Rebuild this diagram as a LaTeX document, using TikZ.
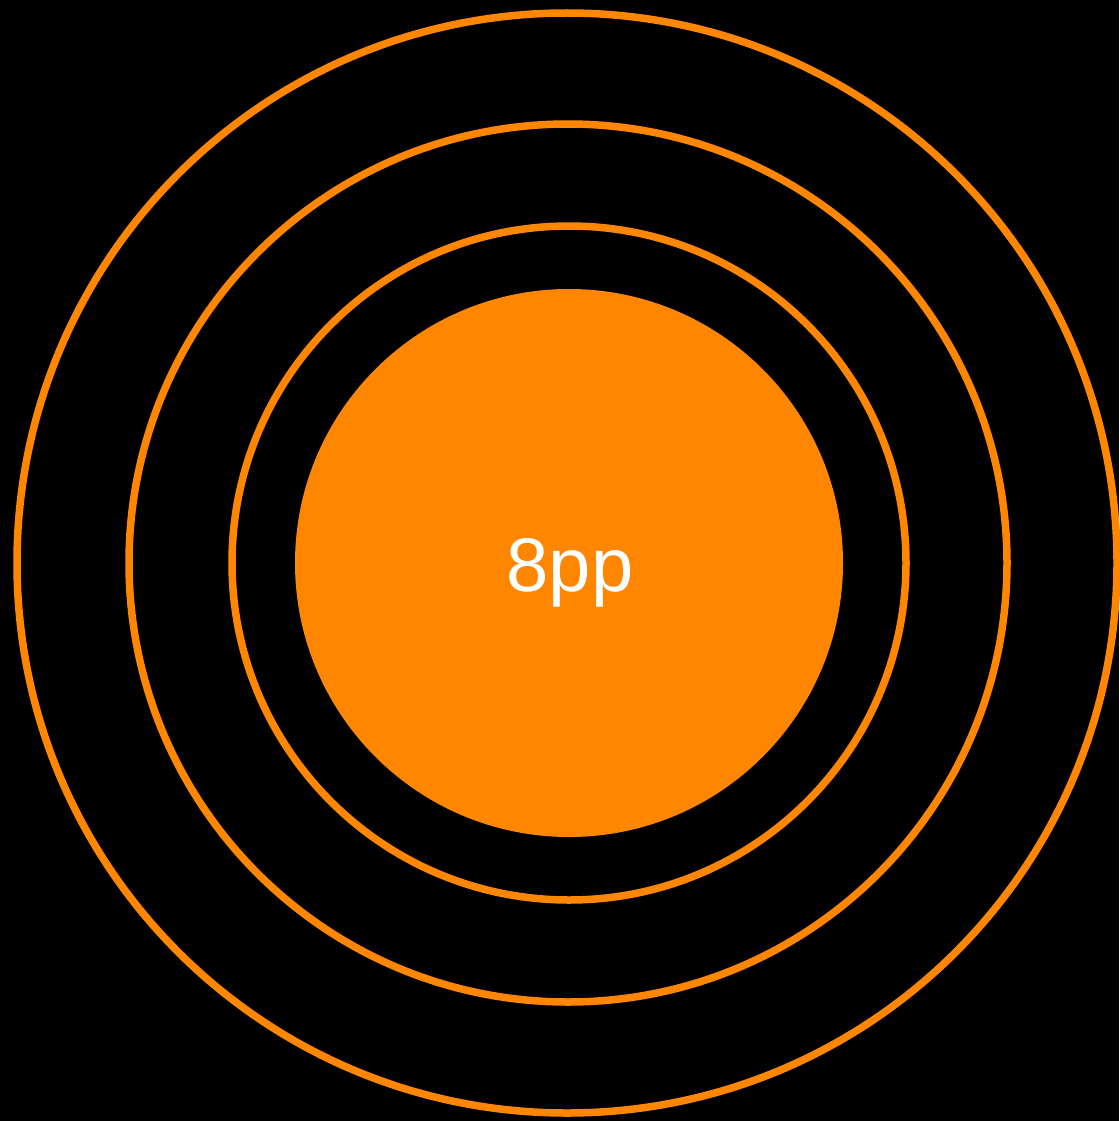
\documentclass[tikz,border=0pt]{standalone}
\usepackage{fontspec}
\setmainfont{Liberation Sans}
\definecolor{ringorange}{HTML}{FF8600}

\begin{document}
\begin{tikzpicture}[
        x=1pt, y=-1pt,
        ring/.style = {circle, draw=ringorange, line width=7.5pt, inner sep=0pt},
        core/.style = {circle, fill=ringorange, inner sep=0pt, minimum size=548pt},
        tag/.style = {text=white, font=\fontsize{76}{76}\selectfont}
]
        \fill[black] (0,0) rectangle (1119,1121);
        \useasboundingbox (0,0) rectangle (1119,1121);
        \node[ring, minimum size=1100pt] (outer) at (567,563) {};
        \node[ring, minimum size=878pt] (middle) at (568,563) {};
        \node[ring, minimum size=674pt] (inner) at (569,563) {};
        \node[core] (disk) at (569,563) {};
        \node[tag] (label) at ([xshift=1pt, yshift=-10pt]disk.center) {8pp};
\end{tikzpicture}
\end{document}
